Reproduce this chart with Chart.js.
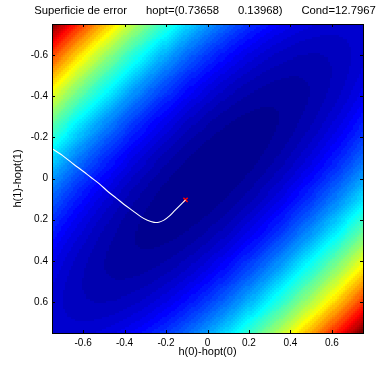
<!DOCTYPE html>
<html>
<head>
<meta charset="utf-8">
<script src="https://cdn.jsdelivr.net/npm/chart.js@4/dist/chart.umd.min.js"></script>
<style>
  html, body { margin: 0; padding: 0; background: #fff; }
</style>
</head>
<body>
<canvas id="surfaceChart" width="379" height="371"></canvas>
<script>
const titleText = "Superficie de error      hopt=(0.73658      0.13968)      Cond=12.7967";
const xTitle = "h(0)-hopt(0)";
const yTitle = "h(1)-hopt(1)";
const tickValues = [-0.6, -0.4, -0.2, 0, 0.2, 0.4, 0.6];
const tickLabels = ["-0.6", "-0.4", "-0.2", "0", "0.2", "0.4", "0.6"];

// autocorrelation matrix of the input (r0, r1), ratio from Cond in the title
const condNumber = 12.7967;
const r0 = 1;
const r1 = (condNumber - 1) / (condNumber + 1);

// grid of the error surface
const gridStep = 0.01;
const gridH0 = Array.from({ length: 151 }, (_, i) => -0.75 + i * gridStep);
const gridH1 = Array.from({ length: 151 }, (_, i) => -0.75 + i * gridStep);

// trajectory of the coefficients
const pathH0 = [-0.75, -0.70, -0.644, -0.60, -0.563, -0.52, -0.482, -0.44, -0.402, -0.36, -0.322, -0.29, -0.258, -0.235, -0.21, -0.186, -0.162, -0.135, -0.106];
const pathH1 = [-0.145, -0.112, -0.068, -0.035, -0.006, 0.027, 0.062, 0.095, 0.126, 0.157, 0.185, 0.203, 0.213, 0.212, 0.202, 0.184, 0.16, 0.133, 0.104];

// final point (red cross)
const endH0 = [-0.106];
const endH1 = [0.104];

function errorAt(a, b) {
  return r0 * (a * a + b * b) + 2 * r1 * a * b;
}

// matlab jet(64)
function jet(i) {
  i = i + 1;
  let r, g, b;
  if (i <= 8) b = (i + 8) / 16; else if (i <= 24) b = 1; else if (i <= 40) b = (40 - i) / 16; else b = 0;
  if (i <= 8) g = 0; else if (i <= 24) g = (i - 8) / 16; else if (i <= 40) g = 1; else if (i <= 56) g = (56 - i) / 16; else g = 0;
  if (i <= 24) r = 0; else if (i <= 40) r = (i - 24) / 16; else if (i <= 56) r = 1; else r = (72 - i) / 16;
  return `rgb(${Math.round(r * 255)},${Math.round(g * 255)},${Math.round(b * 255)})`;
}

const fontFamily = "'Liberation Sans', Arial, sans-serif";

const surfacePlugin = {
  id: "surface",
  beforeDatasetsDraw(chart) {
    const { ctx, chartArea, scales: { x, y } } = chart;
    let vmin = Infinity, vmax = -Infinity;
    const vals = gridH1.map(b => gridH0.map(a => {
      const v = errorAt(a, b);
      if (v < vmin) vmin = v;
      if (v > vmax) vmax = v;
      return v;
    }));
    const half = gridStep / 2;
    ctx.save();
    ctx.beginPath();
    ctx.rect(chartArea.left, chartArea.top, chartArea.right - chartArea.left, chartArea.bottom - chartArea.top);
    ctx.clip();
    gridH1.forEach((b, j) => {
      const ya = y.getPixelForValue(b - half), yb = y.getPixelForValue(b + half);
      const yTop = Math.floor(Math.min(ya, yb)), yBot = Math.ceil(Math.max(ya, yb));
      gridH0.forEach((a, i) => {
        const x0 = Math.floor(x.getPixelForValue(a - half));
        const x1 = Math.ceil(x.getPixelForValue(a + half));
        let idx = Math.floor((vals[j][i] - vmin) / (vmax - vmin) * 64);
        if (idx > 63) idx = 63;
        ctx.fillStyle = jet(idx);
        ctx.fillRect(x0, yTop, x1 - x0, yBot - yTop);
      });
    });
    ctx.restore();
  },
  afterDraw(chart) {
    const { ctx, chartArea: ca, scales: { x, y } } = chart;
    const tl = 3;
    ctx.save();
    ctx.strokeStyle = "#000";
    ctx.lineWidth = 1;
    ctx.beginPath();
    tickValues.forEach(v => {
      const px = Math.round(x.getPixelForValue(v)) + 0.5;
      ctx.moveTo(px, ca.bottom); ctx.lineTo(px, ca.bottom - tl);
      ctx.moveTo(px, ca.top); ctx.lineTo(px, ca.top + tl);
      const py = Math.round(y.getPixelForValue(v)) + 0.5;
      ctx.moveTo(ca.left, py); ctx.lineTo(ca.left + tl, py);
      ctx.moveTo(ca.right, py); ctx.lineTo(ca.right - tl, py);
    });
    ctx.stroke();
    ctx.strokeRect(Math.round(ca.left) + 0.5, Math.round(ca.top) + 0.5,
      Math.round(ca.right - ca.left), Math.round(ca.bottom - ca.top));

    // title centred over the axes, like matlab
    ctx.fillStyle = "#000";
    ctx.font = `11.3px ${fontFamily}`;
    ctx.textAlign = "center";
    ctx.textBaseline = "middle";
    ctx.fillText(titleText, 205, 11);
    ctx.restore();
  }
};

const font = { family: fontFamily, size: 10 };

function axis(titleTextValue, titlePadding) {
  return {
    type: "linear",
    min: -0.75,
    max: 0.75,
    afterBuildTicks: s => { s.ticks = tickValues.map(v => ({ value: v })); },
    ticks: {
      callback: (v, i) => tickLabels[i],
      font: font,
      color: "#000",
      padding: 4,
      maxRotation: 0,
      autoSkip: false
    },
    grid: { display: false, drawTicks: false },
    border: { display: false },
    title: {
      display: true,
      text: titleTextValue,
      color: "#000",
      font: { family: fontFamily, size: 11 },
      padding: titlePadding
    }
  };
}

const xAxis = axis(xTitle, { top: 0, bottom: 12 });
xAxis.afterFit = s => { s.height = 38; };
const yAxis = axis(yTitle, { top: 11, bottom: 0 });
yAxis.reverse = true;
yAxis.afterFit = s => { s.width = 52; };

new Chart(document.getElementById("surfaceChart"), {
  type: "scatter",
  data: {
    datasets: [
      {
        data: pathH0.map((v, i) => ({ x: v, y: pathH1[i] })),
        showLine: true,
        borderColor: "#ffffff",
        borderWidth: 1.1,
        pointRadius: 0,
        tension: 0.3
      },
      {
        data: endH0.map((v, i) => ({ x: v, y: endH1[i] })),
        pointStyle: "crossRot",
        pointRadius: 3,
        borderColor: "#ff0000",
        borderWidth: 1.5
      }
    ]
  },
  options: {
    responsive: false,
    animation: false,
    events: [],
    layout: { padding: { left: 0, right: 16, top: 24, bottom: 0 } },
    scales: { x: xAxis, y: yAxis },
    plugins: {
      legend: { display: false },
      tooltip: { enabled: false },
      title: { display: false }
    }
  },
  plugins: [surfacePlugin]
});
</script>
</body>
</html>
